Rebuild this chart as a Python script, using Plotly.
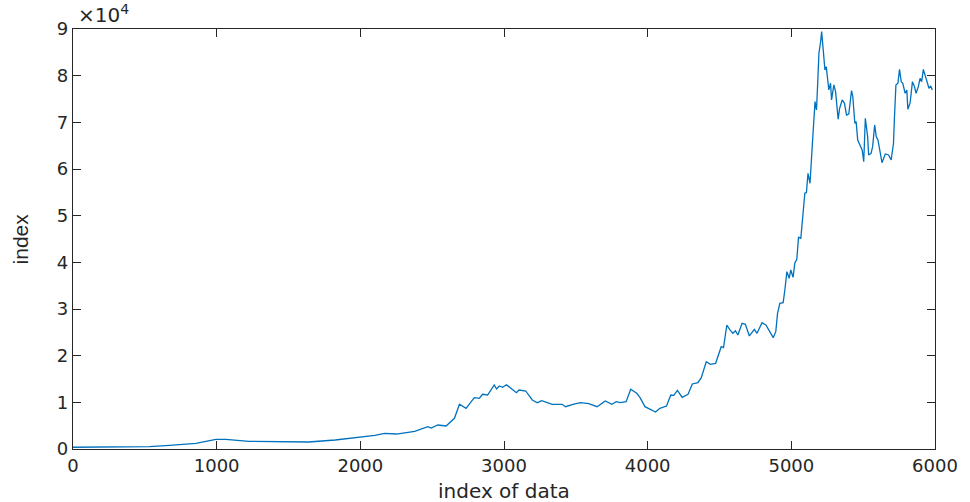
import plotly.graph_objects as go

# index of data (x) and index value (y)
idx = [0, 300, 533, 671, 856, 994, 1063, 1225, 1479, 1640, 1825, 1986, 2101, 2170, 2251,
       2378, 2470, 2493, 2540, 2597, 2655, 2690, 2736, 2793, 2828, 2851, 2886, 2932, 2948,
       2967, 2990, 3017, 3052, 3086, 3105, 3151, 3197, 3232, 3262, 3336, 3405, 3428, 3486,
       3532, 3590, 3648, 3705, 3751, 3781, 3809, 3850, 3882, 3924, 3947, 3981, 4016, 4055,
       4085, 4131, 4161, 4182, 4207, 4240, 4281, 4311, 4350, 4373, 4408, 4436, 4473, 4512,
       4528, 4551, 4570, 4593, 4611, 4628, 4657, 4680, 4708, 4743, 4761, 4796, 4823, 4853,
       4874, 4892, 4904, 4920, 4943, 4955, 4969, 4985, 4996, 5012, 5024, 5038, 5050, 5066,
       5078, 5094, 5105, 5116, 5130, 5142, 5151, 5165, 5175, 5182, 5192, 5204, 5211, 5220,
       5227, 5234, 5243, 5250, 5261, 5273, 5280, 5296, 5308, 5326, 5336, 5354, 5370, 5384,
       5400, 5419, 5428, 5442, 5451, 5462, 5481, 5493, 5504, 5515, 5531, 5538, 5555, 5566,
       5580, 5591, 5603, 5614, 5631, 5654, 5677, 5695, 5711, 5718, 5728, 5742, 5753, 5765,
       5776, 5792, 5804, 5811, 5827, 5843, 5857, 5868, 5884, 5896, 5907, 5919, 5935, 5949,
       5958, 5970, 5981]
values = [370, 380, 500, 790, 1200, 2080, 2080, 1650, 1500, 1500, 1930, 2500, 2930, 3360, 3210,
          3790, 4780, 4500, 5140, 4930, 6570, 9580, 8720, 11000, 10860, 11720, 11570, 13720, 12860,
          13500, 13220, 13780, 13000, 12070, 12640, 12430, 10500, 9920, 10350, 9580, 9580, 9070, 9640,
          9920, 9710, 9070, 10290, 9580, 10140, 9920, 10140, 12790, 11930, 11000, 9070, 8510, 7930,
          8720, 9210, 11570, 11500, 12580, 11080, 11720, 13930, 14210, 15280, 18710, 18150, 18360, 21920,
          21710, 26570, 25650, 24790, 25350, 24430, 26930, 26720, 24220, 25650, 24790, 27070, 26570, 24930,
          23860, 25200, 29080, 31220, 31350, 34070, 38000, 36580, 38360, 36790, 39790, 40650, 45360, 45150,
          49070, 54790, 54930, 59080, 56940, 61930, 67650, 74430, 72650, 77300, 84800, 87290, 89430, 86220,
          83720, 81220, 81930, 79440, 76940, 78370, 74790, 78010, 76580, 70650, 73010, 74790, 74080, 71580,
          71790, 76790, 75510, 69800, 70150, 66220, 64930, 64080, 61570, 70870, 66930, 63010, 63370, 64790,
          69440, 66930, 66220, 64440, 61360, 63220, 63010, 61930, 65510, 71220, 78010, 78370, 81360, 78720,
          78370, 76230, 76940, 72800, 74220, 78720, 77650, 76230, 77650, 79440, 78720, 81360, 79790, 78370,
          77300, 77790, 76940]

x_ticks = [0, 1000, 2000, 3000, 4000, 5000, 6000]
y_ticks = [0, 10000, 20000, 30000, 40000, 50000, 60000, 70000, 80000, 90000]
y_ticktext = ["0", "1", "2", "3", "4", "5", "6", "7", "8", "9"]

axis_color = "#262626"
tick_font = dict(family="DejaVu Sans", size=18, color=axis_color)

fig = go.Figure()
fig.add_trace(go.Scatter(x=idx, y=values, mode="lines",
                         line=dict(color="#0072BD", width=1.3), showlegend=False))

common = dict(showline=True, linecolor=axis_color, linewidth=1.3, mirror="ticks",
              ticks="inside", ticklen=8, tickwidth=1.3, tickcolor=axis_color,
              showgrid=False, zeroline=False, tickfont=tick_font)

fig.update_xaxes(range=[0, 6000], tickvals=x_ticks, **common)
fig.update_yaxes(range=[0, 90000], tickvals=y_ticks, ticktext=y_ticktext, **common)

fig.update_layout(
    width=970, height=502,
    margin=dict(l=73, r=29, t=29, b=53),
    paper_bgcolor="white", plot_bgcolor="white",
    annotations=[
        dict(text="×10<sup>4</sup>", xref="paper", yref="paper", x=0.004, y=1.0,
             xanchor="left", yanchor="bottom", yshift=0, showarrow=False,
             font=dict(family="DejaVu Sans", size=20, color=axis_color)),
        dict(text="index of data", xref="paper", yref="paper", x=0.5, y=-0.1,
             xanchor="center", yanchor="middle", showarrow=False,
             font=dict(family="DejaVu Sans", size=20, color=axis_color)),
        dict(text="index", xref="paper", yref="paper", x=-0.061, y=0.5,
             xanchor="center", yanchor="middle", textangle=-90, showarrow=False,
             font=dict(family="Liberation Sans", size=21, color=axis_color)),
    ],
)

fig.write_html("out.html")
